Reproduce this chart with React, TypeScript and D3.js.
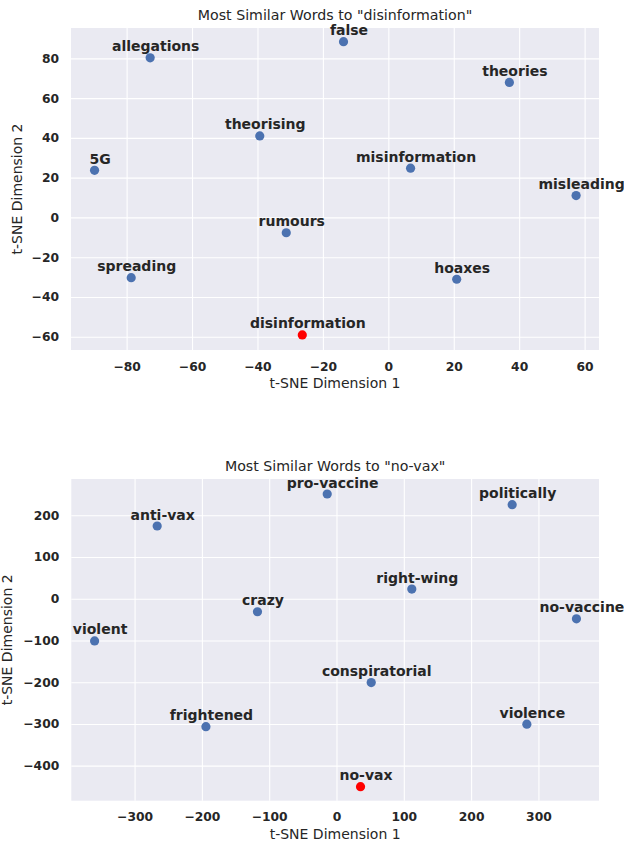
import { useEffect, useRef } from 'react';
import * as d3 from 'd3';

// chart 1: neighbours of "disinformation"
const disWords = ['allegations', 'false', 'theories', 'theorising', '5G', 'misinformation', 'misleading', 'rumours', 'spreading', 'hoaxes'];
const disX = [-72.8, -13.7, 37.0, -39.3, -89.8, 6.8, 57.4, -31.2, -78.6, 20.9];
const disY = [80.3, 88.4, 67.9, 41.0, 23.7, 24.8, 11.0, -7.7, -30.3, -31.1];
const disTarget = { word: 'disinformation', x: -26.3, y: -59.1 };
const disXTicks = [-80, -60, -40, -20, 0, 20, 40, 60];
const disYTicks = [-60, -40, -20, 0, 20, 40, 60, 80];

// chart 2: neighbours of "no-vax"
const vaxWords = ['pro-vaccine', 'politically', 'anti-vax', 'right-wing', 'crazy', 'violent', 'no-vaccine', 'conspiratorial', 'frightened', 'violence'];
const vaxX = [-13.8, 261.0, -266.4, 111.9, -117.4, -359.4, 356.5, 51.6, -194.0, 282.8];
const vaxY = [251.0, 225.4, 174.3, 23.3, -31.2, -101.0, -48.0, -201.0, -306.5, -300.7];
const vaxTarget = { word: 'no-vax', x: 35.7, y: -450.4 };
const vaxXTicks = [-300, -200, -100, 0, 100, 200, 300];
const vaxYTicks = [-400, -300, -200, -100, 0, 100, 200];

const TEXT = '#262626';
const FONT = 'DejaVu Sans, sans-serif';

function drawPanel(svg: any, opts: any) {
  const { left, right, top, bottom, xDomain, yDomain, xTicks, yTicks, words, xs, ys, target, title, yLabelX } = opts;
  const xScale = d3.scaleLinear().domain(xDomain).range([left, right]);
  const yScale = d3.scaleLinear().domain(yDomain).range([bottom, top]);

  const g = svg.append('g');

  g.append('rect')
    .attr('x', left).attr('y', top)
    .attr('width', right - left).attr('height', bottom - top)
    .attr('fill', '#eaeaf2');

  const xAxis = d3.axisBottom(xScale).tickValues(xTicks).tickSize(-(bottom - top)).tickPadding(12);
  const yAxis = d3.axisLeft(yScale).tickValues(yTicks).tickSize(-(right - left)).tickPadding(12);

  const xg = g.append('g').attr('transform', `translate(0, ${bottom})`).call(xAxis);
  const yg = g.append('g').attr('transform', `translate(${left}, 0)`).call(yAxis);
  [xg, yg].forEach((ax) => {
    ax.select('.domain').remove();
    ax.selectAll('line').attr('stroke', '#ffffff').attr('stroke-width', 1.1);
    ax.selectAll('text')
      .attr('fill', TEXT)
      .style('font-family', FONT)
      .style('font-size', '12.3px')
      .style('font-weight', 'bold');
  });
  xg.selectAll('text').attr('dy', '0.71em');

  const pts = words.map((w: string, i: number) => ({ word: w, x: xs[i], y: ys[i], color: '#4c72b0' }));
  pts.push({ word: target.word, x: target.x, y: target.y, color: '#ff0000' });

  g.selectAll('circle.pt')
    .data(pts)
    .join('circle')
    .attr('class', 'pt')
    .attr('cx', (d: any) => xScale(d.x))
    .attr('cy', (d: any) => yScale(d.y))
    .attr('r', 4.6)
    .attr('fill', (d: any) => d.color);

  // labels sit a little right of and above each point
  g.selectAll('text.lbl')
    .data(pts)
    .join('text')
    .attr('class', 'lbl')
    .attr('x', (d: any) => xScale(d.x) + 5.5)
    .attr('y', (d: any) => yScale(d.y) - 6.5)
    .attr('text-anchor', 'middle')
    .attr('fill', TEXT)
    .style('font-family', FONT)
    .style('font-size', '14px')
    .style('font-weight', 'bold')
    .text((d: any) => d.word);

  g.append('text')
    .attr('x', (left + right) / 2)
    .attr('y', top - 8)
    .attr('text-anchor', 'middle')
    .attr('fill', TEXT)
    .style('font-family', FONT)
    .style('font-size', '14.2px')
    .text(title);

  g.append('text')
    .attr('x', (left + right) / 2)
    .attr('y', bottom + 38)
    .attr('text-anchor', 'middle')
    .attr('fill', TEXT)
    .style('font-family', FONT)
    .style('font-size', '14px')
    .text('t-SNE Dimension 1');

  g.append('text')
    .attr('transform', `translate(${yLabelX}, ${(top + bottom) / 2}) rotate(-90)`)
    .attr('text-anchor', 'middle')
    .attr('fill', TEXT)
    .style('font-family', FONT)
    .style('font-size', '14px')
    .text('t-SNE Dimension 2');
}

export default function App() {
  const ref = useRef<SVGSVGElement>(null);

  useEffect(() => {
    const svg = d3.select(ref.current);
    svg.selectAll('*').remove();

    drawPanel(svg, {
      left: 71, right: 599, top: 28, bottom: 350,
      xDomain: [-97, 64.4], yDomain: [-66.7, 95.3],
      xTicks: disXTicks, yTicks: disYTicks,
      words: disWords, xs: disX, ys: disY, target: disTarget,
      title: 'Most Similar Words to "disinformation"',
      yLabelX: 21.5,
    });

    drawPanel(svg, {
      left: 71.3, right: 599, top: 479, bottom: 800.7,
      xDomain: [-394, 390], yDomain: [-484, 287],
      xTicks: vaxXTicks, yTicks: vaxYTicks,
      words: vaxWords, xs: vaxX, ys: vaxY, target: vaxTarget,
      title: 'Most Similar Words to "no-vax"',
      yLabelX: 12,
    });
  }, []);

  return (
    <svg ref={ref} width={624} height={844} style={{ position: 'absolute', left: 0, top: 0, background: '#ffffff' }} />
  );
}
